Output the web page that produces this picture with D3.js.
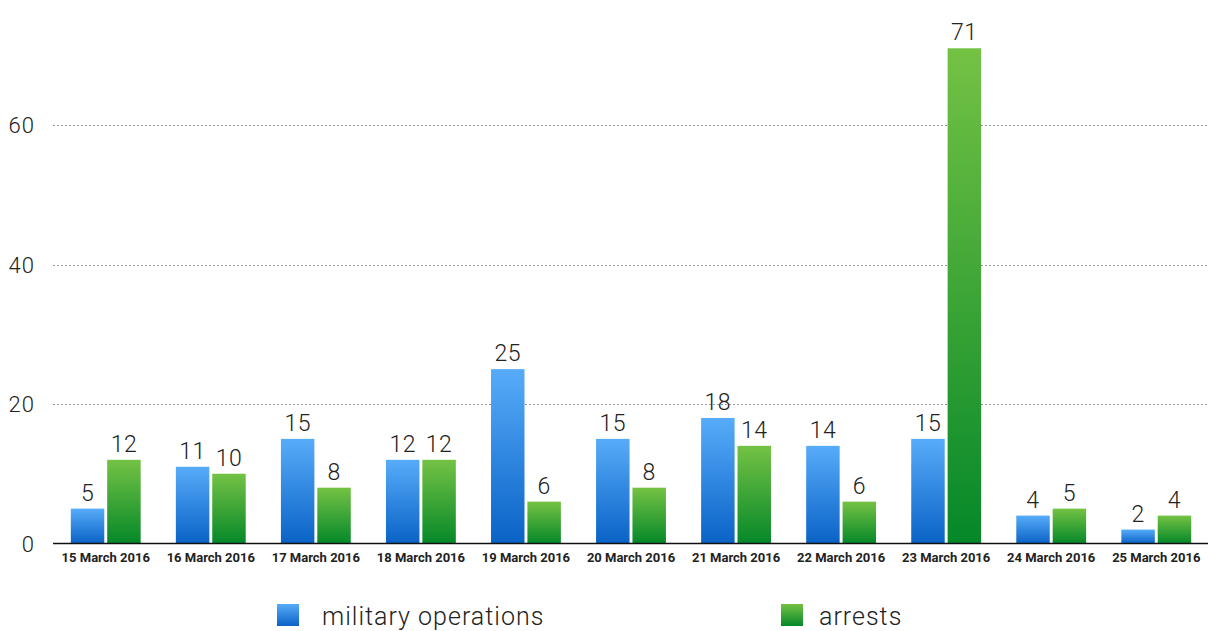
<!DOCTYPE html>
<html>
<head>
<meta charset="utf-8">
<script src="https://cdn.jsdelivr.net/npm/d3@7"></script>
<style>
  body { margin: 0; background: #fff; }
  svg { display: block; }
  .ytick text { font-family: Roboto, "Liberation Sans", sans-serif; font-weight: 300; font-size: 22px; letter-spacing: 1px; fill: #222; }
  .xtick text { font-family: Roboto, "DejaVu Sans", sans-serif; font-weight: 700; font-size: 13px; fill: #222; }
  .val { font-family: Roboto, "Liberation Sans", sans-serif; font-weight: 300; font-size: 23px; letter-spacing: 0.5px; fill: #222; }
  .legend text { font-family: Roboto, "Liberation Sans", sans-serif; font-weight: 300; font-size: 25px; letter-spacing: 1px; fill: #222; }
</style>
</head>
<body>
<div id="chart"></div>
<script>
// dates along the bottom
const days = ['15 March 2016', '16 March 2016', '17 March 2016', '18 March 2016', '19 March 2016',
              '20 March 2016', '21 March 2016', '22 March 2016', '23 March 2016', '24 March 2016', '25 March 2016'];

const militaryOps = [5, 11, 15, 12, 25, 15, 18, 14, 15, 4, 2];
const arrests     = [12, 10, 8, 12, 6, 8, 14, 6, 71, 5, 4];

const seriesNames = ['military operations', 'arrests'];
const yTicks = [0, 20, 40, 60];

const width = 1208,
      height = 631;

const svg = d3.select('#chart')
              .append('svg')
              .attr('width', width)
              .attr('height', height);

// gradients, light on top to dark at the bottom
const defs = svg.append('defs');
const grads = [
  { id: 'gBlue', top: '#57acf9', bottom: '#0a62c6' },
  { id: 'gGreen', top: '#74c244', bottom: '#058829' }
];
grads.forEach(g => {
  const lg = defs.append('linearGradient')
                 .attr('id', g.id)
                 .attr('x1', 0).attr('y1', 0)
                 .attr('x2', 0).attr('y2', 1);
  lg.append('stop').attr('offset', '0%').attr('stop-color', g.top);
  lg.append('stop').attr('offset', '100%').attr('stop-color', g.bottom);
});

const x = d3.scaleBand()
            .domain(days)
            .range([54, 1208])
            .paddingInner(0.335)
            .paddingOuter(0.16);

const sub = d3.scaleBand()
              .domain(seriesNames)
              .range([0, x.bandwidth()])
              .paddingInner(0.08);

const y = d3.scaleLinear()
            .domain([0, 60])
            .range([543.5, 125]);

// grid lines
svg.append('g')
   .selectAll('line')
   .data(yTicks.filter(d => d > 0))
   .enter()
   .append('line')
   .attr('x1', 53)
   .attr('x2', width)
   .attr('y1', d => Math.round(y(d)) + 0.5)
   .attr('y2', d => Math.round(y(d)) + 0.5)
   .attr('stroke', '#999')
   .attr('stroke-width', 1)
   .attr('stroke-dasharray', '2,2');

// y axis labels
const yAxis = d3.axisLeft(y)
                .tickValues(yTicks)
                .tickSize(0)
                .tickPadding(0);

svg.append('g')
   .attr('class', 'ytick')
   .attr('transform', 'translate(35,0)')
   .call(yAxis)
   .call(g => g.select('.domain').remove())
   .selectAll('text')
   .attr('dy', '0.36em');

// bars
const rows = days.map((d, i) => ({ day: d, values: [militaryOps[i], arrests[i]] }));

const groups = svg.selectAll('.grp')
                  .data(rows)
                  .enter()
                  .append('g')
                  .attr('class', 'grp')
                  .attr('transform', d => 'translate(' + x(d.day) + ',0)');

const cells = groups.selectAll('g')
                    .data(d => d.values.map((v, j) => ({ name: seriesNames[j], v: v, j: j })))
                    .enter()
                    .append('g');

cells.append('rect')
     .attr('x', d => sub(d.name))
     .attr('y', d => y(d.v))
     .attr('width', sub.bandwidth())
     .attr('height', d => y(0) - y(d.v))
     .attr('fill', d => 'url(#' + grads[d.j].id + ')');

cells.append('text')
     .attr('class', 'val')
     .attr('x', d => sub(d.name) + sub.bandwidth() / 2)
     .attr('y', d => y(d.v) - 8)
     .attr('text-anchor', 'middle')
     .text(d => d.v);

// x axis
const xAxis = d3.axisBottom(x)
                .tickSize(0)
                .tickPadding(9);

svg.append('g')
   .attr('class', 'xtick')
   .attr('transform', 'translate(0,543.5)')
   .call(xAxis)
   .call(g => g.select('.domain').remove());

svg.append('line')
   .attr('x1', 53)
   .attr('x2', width)
   .attr('y1', 543.5)
   .attr('y2', 543.5)
   .attr('stroke', '#111')
   .attr('stroke-width', 1.5);

// legend
const legendPos = [277, 781];
const legend = svg.selectAll('.legend')
                  .data(seriesNames)
                  .enter()
                  .append('g')
                  .attr('class', 'legend')
                  .attr('transform', (d, i) => 'translate(' + legendPos[i] + ',604)');

legend.append('rect')
      .attr('width', 22)
      .attr('height', 22)
      .attr('fill', (d, i) => 'url(#' + grads[i].id + ')');

legend.append('text')
      .attr('x', (d, i) => i === 0 ? 45 : 38)
      .attr('y', 21)
      .text(d => d);
</script>
</body>
</html>
